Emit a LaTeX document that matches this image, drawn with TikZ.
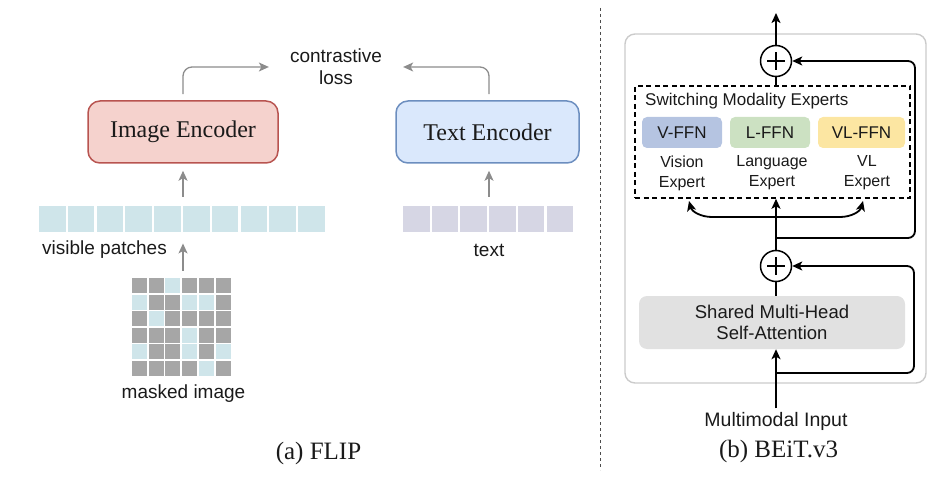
\documentclass[tikz,border=0pt]{standalone}
\usepackage{fontspec}
\setmainfont{Liberation Serif}
\newfontfamily\sansf{Liberation Sans}
\usetikzlibrary{arrows.meta,calc}
\definecolor{pinkf}{HTML}{F5D2CD}
\definecolor{pinkd}{HTML}{B85450}
\definecolor{bluef}{HTML}{DAE8FC}
\definecolor{blued}{HTML}{6C8EBF}
\definecolor{vpatch}{HTML}{CFE5EA}
\definecolor{tpatch}{HTML}{D6D6E4}
\definecolor{mgray}{HTML}{A6A6A6}
\definecolor{arrgray}{HTML}{8C8C8C}
\definecolor{vffn}{HTML}{B5C4E1}
\definecolor{lffn}{HTML}{CCE1C2}
\definecolor{vlffn}{HTML}{FCE6A2}
\definecolor{mhsaf}{HTML}{E1E1E1}
\definecolor{outerd}{HTML}{CBCBCB}
\definecolor{txt}{HTML}{1A1A1A}
\begin{document}
\begin{tikzpicture}[x=1pt,y=-1pt,
  txt/.style={text=txt},
  enc/.style={draw, line width=1.5pt, rounded corners=12pt, minimum width=190pt, minimum height=62pt, font=\fontsize{24}{28}\selectfont, text=txt},
  sml/.style={font=\sansf\fontsize{19}{22}\selectfont, text=txt, inner sep=0pt},
  patchbox/.style={minimum width=26.5pt, minimum height=26.5pt, inner sep=0pt},
  mcell/.style={minimum size=15pt, inner sep=0pt},
  garrow/.style={draw=arrgray, line width=1.3pt, -{Stealth[length=10pt,width=9pt,inset=2.5pt]}},
  bline/.style={draw=black, line width=1.8pt},
  barrow/.style={bline, -{Stealth[length=10pt,width=9pt,inset=2.5pt]}},
  ffn/.style={rounded corners=5pt, minimum width=80pt, minimum height=31pt, inner sep=0pt, font=\sansf\fontsize{17}{20}\selectfont, text=txt},
  explab/.style={align=center, font=\sansf\fontsize{16}{20}\selectfont, text=txt, inner sep=0pt},
  plusc/.style={circle, draw, fill=white, line width=1.5pt, minimum size=31pt, inner sep=0pt,
    path picture={\draw[line width=1.5pt] ([xshift=-9pt]path picture bounding box.center) -- ([xshift=9pt]path picture bounding box.center)
      ([yshift=-9pt]path picture bounding box.center) -- ([yshift=9pt]path picture bounding box.center);}},
]
\useasboundingbox (0,0) rectangle (950,478);

% ---------------- (a) FLIP ----------------
\node[enc, fill=pinkf, draw=pinkd] (ienc) at (183,132) {Image Encoder};
\node[enc, fill=bluef, draw=blued, minimum width=183pt] (tenc) at (487.5,132) {Text Encoder};
\node[sml, align=center] (loss) at (336,67) {contrastive\\loss};

\draw[garrow, rounded corners=9pt, shorten >=21pt] ([yshift=6pt]ienc.north) |- (loss.west);
\draw[garrow, rounded corners=9pt, shorten >=21pt] ([xshift=1.5pt,yshift=6pt]tenc.north) |- (loss.east);

% visible patches
\node[minimum width=288pt, minimum height=26.5pt, inner sep=0pt] (vrow) at (183,219) {};
\foreach \i in {0,...,9}
  \node[patchbox, fill=vpatch] (vp\i) at ({52.3+28.8*\i},219) {};
\node[sml] (vlab) at (104.5,250) {visible patches};
\draw[garrow, shorten <=9pt, shorten >=7pt] (vrow.north) -- (ienc.south);

% text patches
\node[minimum width=172pt, minimum height=26.5pt, inner sep=0pt] (trow) at (489,219) {};
\foreach \i in {0,...,5}
  \node[patchbox, fill=tpatch] (tp\i) at ({416.3+28.7*\i},219) {};
\node[sml] (tlab) at (489,250) {text};
\draw[garrow, shorten <=9pt, shorten >=7pt] (trow.north) -- (tenc.south -| trow.north);

% masked image
\node[minimum width=100pt, minimum height=97pt, inner sep=0pt] (mgrid) at (182,326.5) {};
\foreach \r [count=\i from 0] in {{0,0,1,0,0,0},{1,0,0,1,1,0},{0,1,0,0,0,0},{0,0,0,1,0,0},{1,0,0,1,0,1},{0,0,0,0,1,0}} {
  \foreach \c [count=\j from 0] in \r {
    \ifnum\c=1 \def\cc{vpatch}\else\def\cc{mgray}\fi
    \node[mcell, fill=\cc] (m\i\j) at ({139.5+16.7*\j},{285.5+16.5*\i}) {};
  }
}
\node[sml] (mlab) at (183.5,394) {masked image};
\draw[garrow, shorten <=7pt, shorten >=11pt] (mgrid.north -| vrow.south) -- (vrow.south);

\node[txt, font=\fontsize{25}{29}\selectfont] (capa) at (318.5,453) {(a) FLIP};

% divider
\draw[draw=black!70, line width=0.8pt, dash pattern=on 3pt off 3pt] (600,8) -- (600,470);

% ---------------- (b) BEiT.v3 ----------------
\node[draw=outerd, line width=1.4pt, rounded corners=10pt, minimum width=301pt, minimum height=349pt, inner sep=0pt] (outer) at (775.5,208.5) {};

\node[draw, line width=1.6pt, dash pattern=on 5pt off 3.5pt, minimum width=275pt, minimum height=112pt, inner sep=0pt] (smx) at (772.5,142) {};
\node[anchor=west, font=\sansf\fontsize{17}{20}\selectfont, text=txt, inner sep=0pt] (smxlab) at (645,101) {Switching Modality Experts};

\node[ffn, fill=vffn] (vf) at (682,132.5) {V-FFN};
\node[ffn, fill=lffn] (lf) at (770,132.5) {L-FFN};
\node[ffn, fill=vlffn, minimum width=87pt] (vlf) at (861.5,132.5) {VL-FFN};
\node[explab] (ve) at (682,173) {Vision\\Expert};
\node[explab] (le) at (772,172.5) {Language\\Expert};
\node[explab] (vle) at (867,173) {VL\\Expert};

\node[plusc] (plus1) at (776,61) {};
\node[plusc] (plus2) at (776,266) {};

\node[fill=mhsaf, rounded corners=8pt, minimum width=266pt, minimum height=53pt, align=center, font=\sansf\fontsize{18.5}{21.5}\selectfont, text=txt] (mhsa) at (772,322.5) {Shared Multi-Head\\Self-Attention};

\node[font=\sansf\fontsize{19.5}{23}\selectfont, text=txt] (inp) at (776,421) {Multimodal Input};
\node[txt, font=\fontsize{25}{29}\selectfont] (capb) at (778.5,451) {(b) BEiT.v3};

\coordinate (topend) at (776,13);
\coordinate (j1) at (776,238);
\coordinate (k1) at (915,238);
\coordinate (j2) at (776,373);
\coordinate (k2) at (914,373);
\coordinate (ca) at (689,201);
\coordinate (cl) at (712,217);
\coordinate (cr) at (840,217);
\coordinate (cb) at (863,201);

\draw[barrow] (inp.north) -- (inp.north |- mhsa.south);
\draw[bline] (plus2.south |- mhsa.north) -- (plus2.south);
\draw[barrow] (plus2.north) -- (plus2.north |- smx.south);
\draw[bline] (plus1.south |- smx.north) -- (plus1.south);
\draw[barrow] (plus1.north) -- (topend);
\draw[barrow, rounded corners=7pt] (j1) -- (k1) |- (plus1.east);
\draw[barrow, rounded corners=7pt] (j2) -- (k2) |- (plus2.east);
\draw[bline, {Stealth[length=10pt,width=9pt,inset=2.5pt]}-{Stealth[length=10pt,width=9pt,inset=2.5pt]}] (ca) to[out=-75,in=180] (cl) -- (cr) to[out=0,in=-105] (cb);
\end{tikzpicture}
\end{document}
